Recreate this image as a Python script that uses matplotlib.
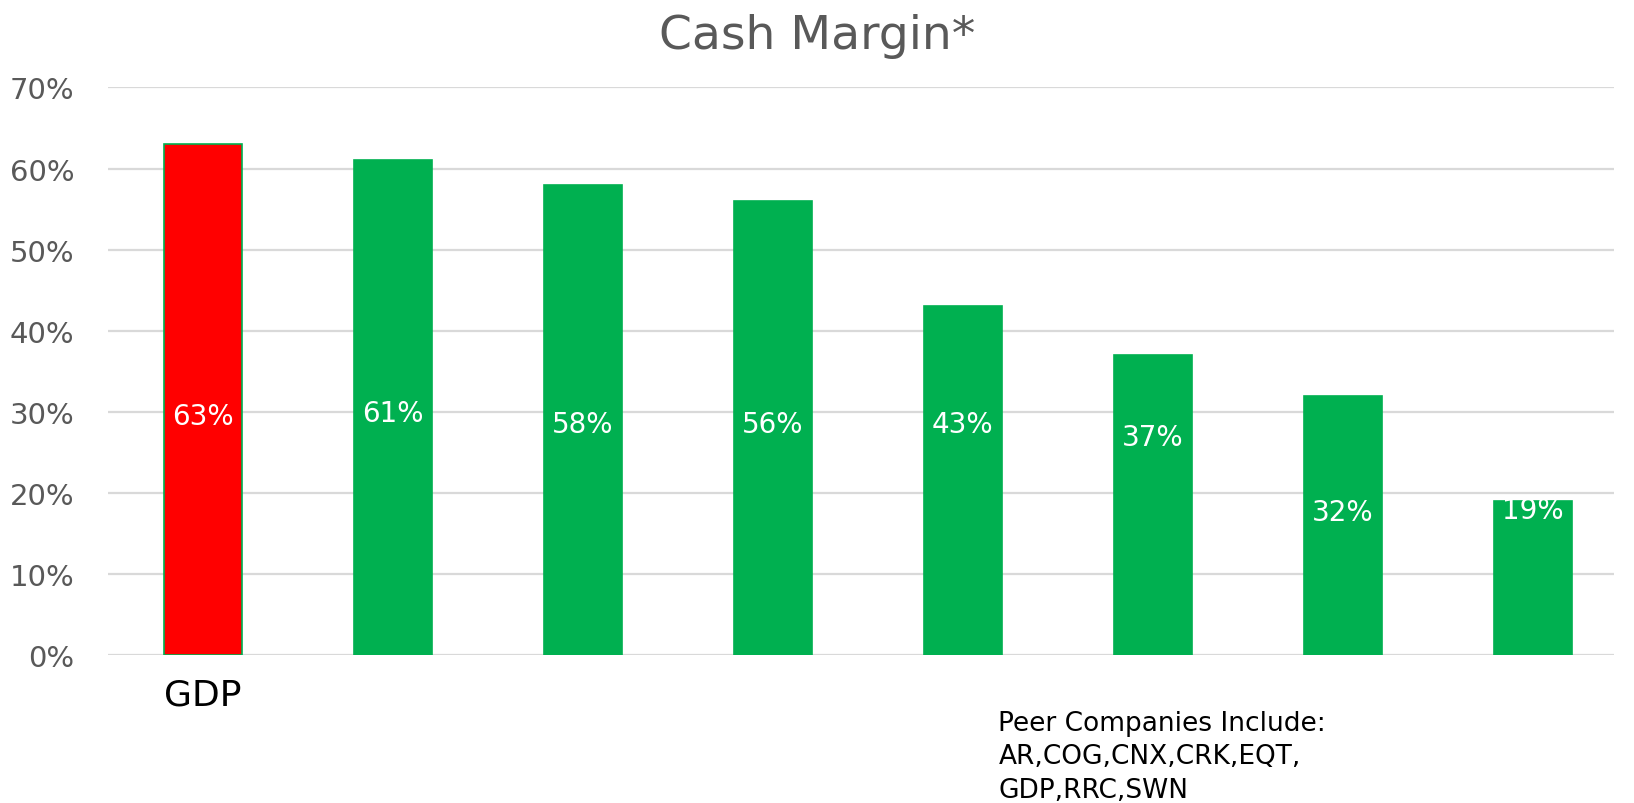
import numpy as np
from matplotlib import pyplot as plt

# data
categories = ["GDP", "", "", "", "", "", "", ""]
values = [63, 61, 58, 56, 43, 37, 32, 19]
label_pos = [29.5, 29.8, 28.5, 28.5, 28.5, 26.9, 17.7, 17.9]
bar_colors = ["#FF0000"] + ["#00B050"] * 7
yticks = [0, 10, 20, 30, 40, 50, 60, 70]
peer_note = "Peer Companies Include:\nAR,COG,CNX,CRK,EQT,\nGDP,RRC,SWN"

fig = plt.figure(figsize=(16.34, 8.04), dpi=100)
ax = fig.add_axes([0.066, 0.184, 0.922, 0.706])

x = np.arange(len(values))
ax.bar(x, values, width=0.41, color=bar_colors, edgecolor="#00B050",
       linewidth=1.2, zorder=3)

for xi, v, p in zip(x, values, label_pos):
    ax.text(xi, p, f"{v}%", color="white", fontsize=20,
            ha="center", va="center", zorder=4)

ax.set_xlim(-0.5, 7.43)
ax.set_ylim(0, 70)
ax.set_yticks(yticks)
ax.set_yticklabels([f"{t}%" for t in yticks], fontsize=21, color="#595959")
ax.set_xticks(x)
ax.set_xticklabels(categories, fontsize=26, color="black")
ax.tick_params(length=0)
ax.tick_params(axis="y", pad=24)
ax.tick_params(axis="x", pad=16)
ax.grid(axis="y", color="#D9D9D9", linewidth=1.6, zorder=0)
for s in ax.spines.values():
    s.set_visible(False)

fig.text(0.5, 0.955, "Cash Margin*", fontsize=34, color="#595959",
         ha="center", va="center")
fig.text(0.611, 0.0, peer_note, fontsize=19, color="black",
         ha="left", va="bottom", linespacing=1.38)

fig.savefig("out.png", dpi=100)
